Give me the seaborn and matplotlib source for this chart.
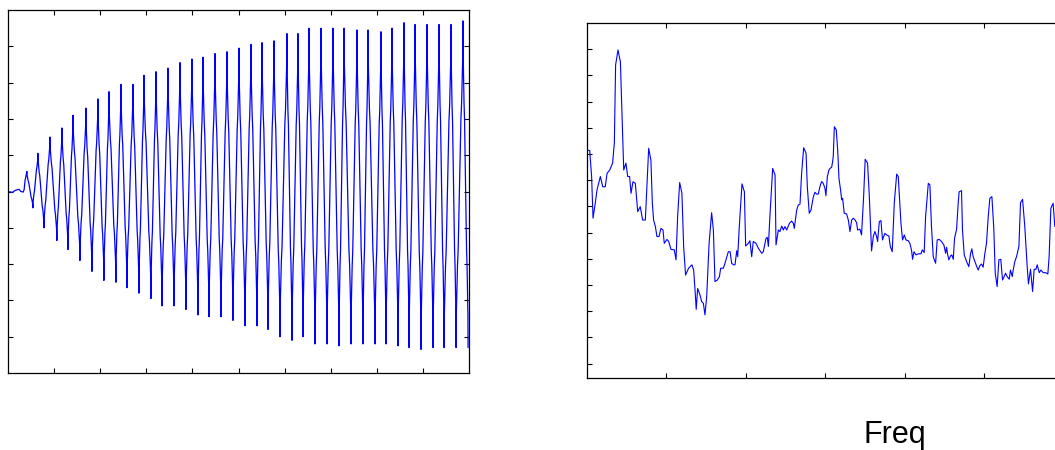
import numpy as np
import pandas as pd
import matplotlib
matplotlib.use("Agg")
import matplotlib.pyplot as plt
import seaborn as sns

# ---- left panel: time signal ----
# quiet start before the oscillation builds up
start_t = [0.0, 0.09, 0.15, 0.20, 0.24, 0.28, 0.33, 0.35, 0.37]
start_v = [0.0, -0.005, 0.005, 0.01, 0.012, 0.0, -0.003, 0.01, 0.06]

# peak / trough time and level of every cycle
peak_t = [0.41, 0.65, 0.91, 1.17, 1.41, 1.69, 1.95, 2.19, 2.45, 2.71,
          2.95, 3.21, 3.47, 3.73, 3.99, 4.23, 4.49, 4.75, 5.01, 5.27,
          5.51, 5.77, 6.05, 6.29, 6.53, 6.79, 7.05, 7.29, 7.57, 7.81,
          8.09, 8.33, 8.59, 8.83, 9.09, 9.35, 9.61, 9.87]
peak_v = [0.11, 0.21, 0.30, 0.35, 0.42, 0.46, 0.51, 0.55, 0.59, 0.59,
          0.64, 0.66, 0.68, 0.71, 0.73, 0.74, 0.76, 0.77, 0.79, 0.81,
          0.82, 0.83, 0.87, 0.87, 0.90, 0.90, 0.90, 0.90, 0.89, 0.89,
          0.88, 0.90, 0.93, 0.92, 0.92, 0.92, 0.92, 0.94]
trough_t = [0.54, 0.78, 1.06, 1.30, 1.56, 1.82, 2.08, 2.34, 2.58, 2.84,
            3.10, 3.34, 3.60, 3.86, 4.12, 4.36, 4.62, 4.88, 5.14, 5.40,
            5.64, 5.90, 6.16, 6.40, 6.66, 6.92, 7.18, 7.44, 7.70, 7.96,
            8.20, 8.46, 8.70, 8.96, 9.22, 9.46, 9.72, 9.98]
trough_v = [-0.09, -0.20, -0.27, -0.32, -0.38, -0.44, -0.49, -0.50, -0.53, -0.56,
            -0.59, -0.63, -0.63, -0.65, -0.68, -0.69, -0.69, -0.71, -0.74, -0.74,
            -0.76, -0.80, -0.82, -0.80, -0.84, -0.84, -0.85, -0.84, -0.84, -0.84,
            -0.84, -0.85, -0.86, -0.87, -0.86, -0.86, -0.86, -0.86]

# shape of one stroke (read from a single cycle), -1 = trough, 1 = peak
down_f = [0.03, 0.2, 0.3, 0.45, 0.55, 0.7, 0.8, 0.97]
down_l = [0.8, 0.5, 0.4, 0.1, -0.1, -0.4, -0.5, -0.8]
up_f = [0.03, 0.2, 0.3, 0.45, 0.55, 0.7, 0.8, 0.97]
up_l = [-0.8, -0.5, -0.4, -0.1, 0.1, 0.4, 0.5, 0.8]

# ---- right panel: spectrum (Hz, dB) ----
freq = [0, 17, 29, 38, 52, 63, 84, 99, 115, 126, 143, 161, 172, 180, 195, 210,
        220, 231, 245, 256, 268, 277, 289, 304, 319, 335, 350, 367, 377, 388,
        402, 411, 419, 430, 440, 453, 465, 478, 486, 503, 514, 528, 549, 560,
        570, 583, 597, 608, 620, 639, 660, 671, 681, 687, 696,
        711, 721, 732, 742, 753, 768, 784, 795, 805, 820, 833, 841, 858, 868,
        889, 900, 910, 921, 931, 942, 948, 958, 975, 990, 998, 1015, 1025,
        1036, 1046, 1063, 1078, 1099, 1109, 1126, 1134, 1141, 1151, 1168,
        1183, 1189, 1204, 1214, 1225, 1235, 1245, 1256, 1273, 1287, 1298,
        1304, 1319, 1329, 1340, 1350, 1363, 1378, 1386, 1398, 1409, 1424,
        1434, 1444, 1455, 1465, 1476, 1486, 1497, 1503, 1512, 1522, 1528,
        1539, 1545, 1549, 1556, 1568, 1577, 1585, 1595, 1602, 1608, 1618,
        1633, 1644, 1654, 1665, 1675, 1686, 1696, 1702, 1717, 1727, 1740,
        1750, 1765, 1776, 1790, 1801, 1811, 1822, 1828, 1839, 1849, 1859,
        1866, 1874, 1885, 1899, 1908, 1920, 1933, 1948, 1958, 1975, 1985,
        1996, 2006, 2021, 2031, 2042, 2048, 2057, 2069, 2084, 2101, 2109,
        2121, 2130, 2147,
        2157, 2167, 2178, 2193, 2203, 2216, 2230, 2245, 2256, 2262, 2268,
        2276, 2287, 2295, 2304, 2312, 2325, 2335, 2341, 2356, 2362, 2373,
        2388, 2402, 2413, 2421, 2429, 2440, 2450, 2461, 2471, 2482, 2492,
        2503, 2513, 2524, 2534, 2547, 2559, 2568, 2580, 2591, 2603, 2614,
        2624, 2633, 2643, 2656, 2664, 2675, 2681, 2691, 2702, 2717, 2727,
        2740, 2754, 2769, 2777, 2790, 2803, 2813, 2824, 2832, 2845, 2855,
        2870, 2886, 2899, 2907, 2918, 2932, 2943]
level_db = [-48.5, -48.7, -58.6, -74.5, -68.8, -63.7, -58.6, -62.5, -62.5, -57.4,
            -56.1, -53.5, -45.9, -16.0, -10.3, -14.8, -34.5, -56.1, -53.5, -58.6,
            -58.6, -65.0, -60.6, -61.2, -72.0, -70.1, -75.2, -75.2, -62.5, -47.8,
            -52.3, -68.8, -75.2, -77.7, -81.5, -81.5, -78.4, -79.0, -84.1, -82.6,
            -83.4, -86.4, -86.6, -90.4, -73.9, -60.9, -65.0, -85.3, -96.2, -93.6,
            -92.3, -94.3, -103.2, -109.3, -101.3,
            -103.8, -106.3, -107.0, -111.4, -104.4, -84.1, -72.4, -79.0, -98.7,
            -98.1, -96.8, -93.6, -93.6, -91.7, -87.3, -87.3, -91.7, -92.3, -92.3,
            -86.9, -89.2, -77.7, -61.4, -64.4, -85.1, -84.1, -83.1, -89.2, -83.4,
            -84.1, -86.0, -87.9, -87.3, -82.2, -81.8, -85.3, -73.3, -55.5, -58.0,
            -84.7, -79.0, -79.6, -77.5, -79.0, -77.7, -79.0, -76.5, -75.6, -76.5,
            -78.4, -71.4, -69.5, -69.1, -57.4, -47.6, -49.7, -62.5, -72.6, -71.4,
            -66.3,
            -64.6, -65.3, -65.3, -62.5, -60.5, -61.2, -63.1, -65.9, -58.6, -56.1,
            -55.5, -55.1, -52.9, -51.0, -39.6, -40.8, -48.5, -59.3, -63.7, -67.5,
            -66.9, -72.6, -72.9, -75.2, -79.6, -75.2, -74.5, -75.2, -76.2, -79.0,
            -78.7, -80.9, -66.3, -52.0, -53.5, -66.3, -87.0, -81.5, -79.6, -81.5,
            -83.4, -75.8, -75.4, -82.8, -81.5, -80.3, -80.9, -81.3, -85.3, -87.3,
            -68.8, -57.7, -58.6, -76.5, -82.8, -80.9, -82.8, -83.1, -84.1, -86.9,
            -90.2, -87.3, -88.5, -88.1, -88.1, -86.6, -87.6, -73.9, -61.2,
            -61.8, -77.7, -89.2, -91.7, -82.8, -82.6, -83.4, -84.7, -87.9, -85.6,
            -88.1, -90.4, -88.9, -88.5, -90.2, -82.2, -78.7, -68.8, -64.4, -64.0,
            -79.0, -88.5, -91.1, -93.0, -87.9, -86.2, -89.2, -91.1, -92.7, -94.3,
            -92.6, -92.0, -93.2, -87.9, -84.1, -73.9, -66.9, -66.3, -78.4, -95.5,
            -100.6, -90.4, -90.2, -98.1, -96.8, -95.5, -96.8, -97.8, -94.3, -96.8,
            -94.3, -91.1, -89.2, -85.3, -68.6, -67.3, -77.7, -93.0, -99.6, -94.0,
            -102.5, -94.0, -94.0, -92.3, -95.3, -94.3, -95.3, -95.3, -95.8, -89.2,
            -70.7, -68.8, -77.7]

# assemble the time signal from the cycle extremes
t_all = list(start_t)
v_all = list(start_v)
for i in range(len(peak_t)):
    P, T = peak_v[i], trough_v[i]
    t_all.append(peak_t[i]); v_all.append(P)
    dt = trough_t[i] - peak_t[i]
    for f, l in zip(down_f, down_l):
        t_all.append(peak_t[i] + f * dt)
        v_all.append(T + (P - T) * (l + 1) / 2)
    t_all.append(trough_t[i]); v_all.append(T)
    if i + 1 < len(peak_t):
        P2 = peak_v[i + 1]
        dt = peak_t[i + 1] - trough_t[i]
        for f, l in zip(up_f, up_l):
            t_all.append(trough_t[i] + f * dt)
            v_all.append(T + (P2 - T) * (l + 1) / 2)

sig = pd.DataFrame({"t": t_all, "v": v_all})
spec = pd.DataFrame({"freq": freq, "db": level_db})

sns.set_style("white")
plt.rcParams["font.family"] = ["Liberation Sans", "DejaVu Sans"]

fig = plt.figure(figsize=(10.55, 4.5), dpi=100)
W, H = 1055, 450
ax1 = fig.add_axes([8 / W, (H - 373) / H, 461 / W, 363 / H])
ax2 = fig.add_axes([587 / W, (H - 378) / H, 616 / W, 355 / H])

sns.lineplot(data=sig, x="t", y="v", ax=ax1, color="#0000ff", lw=0.9,
             estimator=None, sort=False)
sns.lineplot(data=spec, x="freq", y="db", ax=ax2, color="#0000ff", lw=0.8,
             estimator=None, sort=False)

ax1.set_xlim(0, 10)
ax1.set_ylim(-1, 1)
ax1.set_xticks(np.arange(1, 10))
ax1.set_yticks(np.arange(-0.8, 0.81, 0.2))

ax2.set_xlim(0, 3875)
ax2.set_ylim(-135.5, 0)
ax2.set_xticks(np.arange(500, 3600, 500))
ax2.set_yticks(np.arange(-130, -9, 10))

for ax in (ax1, ax2):
    ax.tick_params(direction="in", length=3.5, width=0.8, color="black",
                   top=True, right=True, left=True, bottom=True,
                   labelleft=False, labelbottom=False)
    for s in ax.spines.values():
        s.set_color("black")
        s.set_linewidth(0.9)
    ax.set_ylabel("")
    ax.set_xlabel("")

ax2.set_xlabel("Freq", fontsize=22, color="black")
ax2.xaxis.label.set_va("baseline")
ax2.xaxis.set_label_coords(0.5, -(443 - 378) / 355)

fig.savefig("out.png", dpi=100)
